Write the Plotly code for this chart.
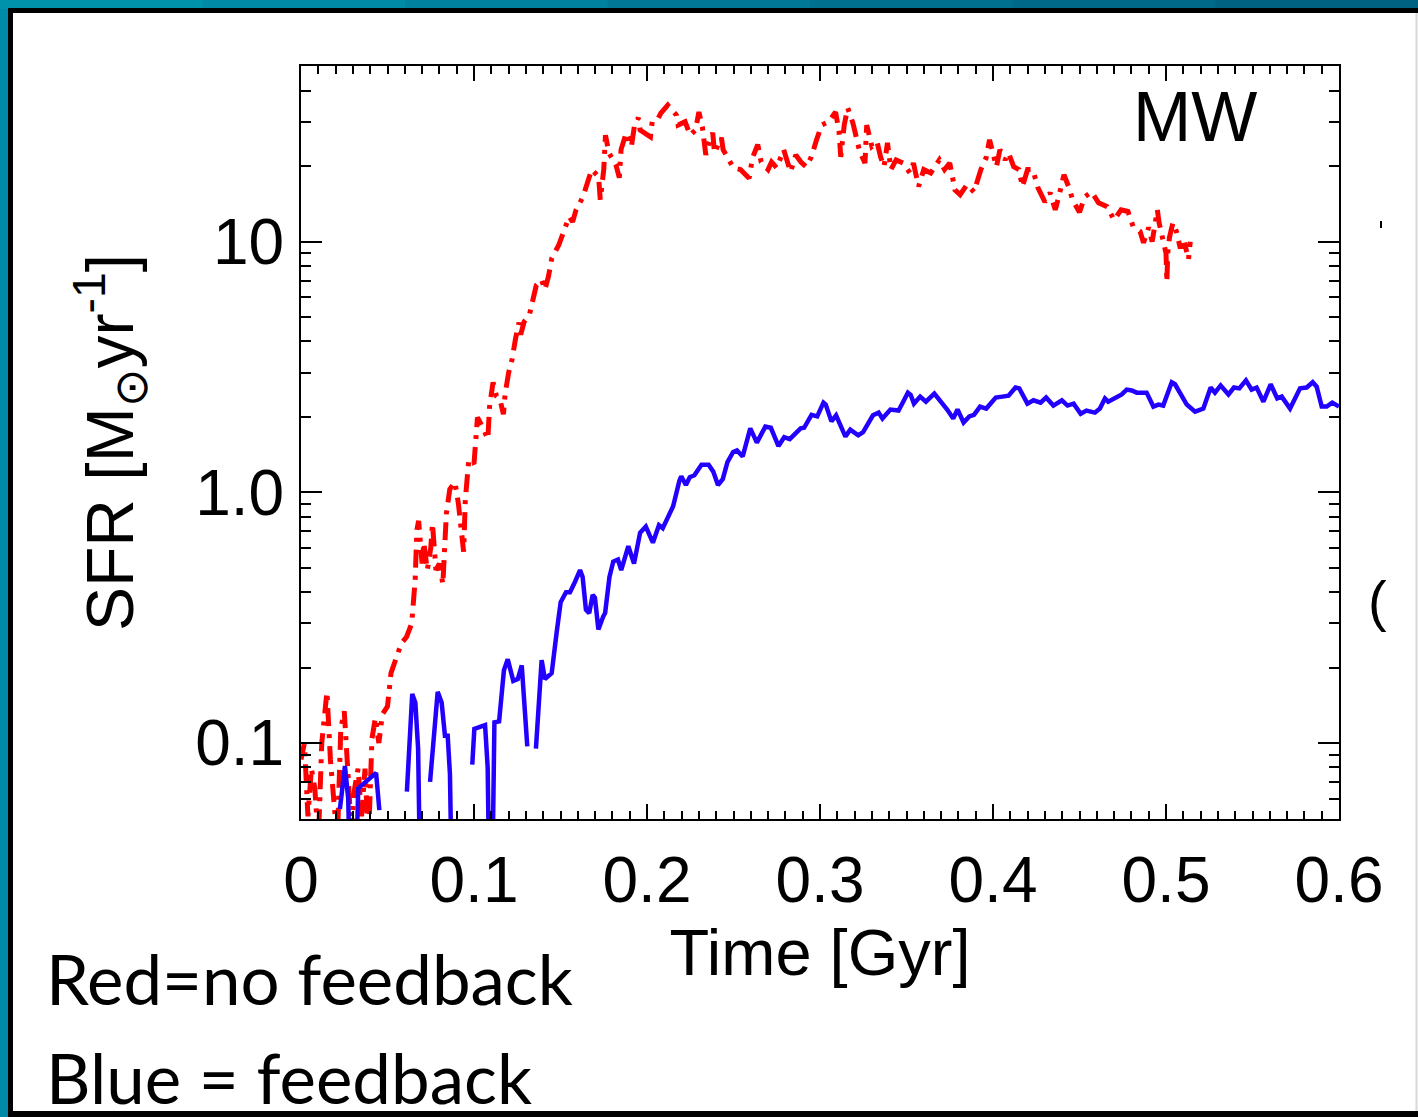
import plotly.graph_objects as go

# --- star formation rate vs time, MW run ---
# no feedback (red, dash-dot)
t_nofb = [0.000, 0.002, 0.004, 0.006, 0.008, 0.010, 0.012, 0.014, 0.015, 0.017,
          0.019, 0.021, 0.023, 0.025, 0.027, 0.029, 0.031, 0.033, 0.035, 0.037,
          0.039, 0.041, 0.043, 0.045, 0.047, 0.050, 0.052, 0.055, 0.058, 0.061,
          0.064, 0.066, 0.067, 0.068, 0.070, 0.071, 0.073, 0.075, 0.076, 0.078,
          0.080, 0.082, 0.083, 0.084, 0.086, 0.089, 0.091, 0.093, 0.094, 0.095,
          0.097, 0.100, 0.101, 0.102, 0.105, 0.108, 0.109, 0.111, 0.113, 0.115,
          0.117, 0.118, 0.120, 0.122, 0.124, 0.126, 0.127, 0.129, 0.132, 0.134,
          0.136, 0.139, 0.141, 0.143, 0.145, 0.149, 0.152, 0.155, 0.157, 0.159,
          0.163, 0.168, 0.172, 0.173, 0.175, 0.176, 0.178, 0.182, 0.184, 0.185,
          0.188, 0.191, 0.193, 0.195, 0.196, 0.202, 0.203, 0.206, 0.208, 0.212,
          0.217, 0.218, 0.222, 0.225, 0.228, 0.230, 0.232, 0.234, 0.236, 0.238,
          0.239, 0.243, 0.244, 0.247, 0.250, 0.254, 0.259, 0.261, 0.264, 0.266,
          0.270, 0.272, 0.275, 0.279, 0.283, 0.286, 0.289, 0.292, 0.295, 0.298,
          0.301, 0.305, 0.308, 0.309, 0.311, 0.312, 0.314, 0.316, 0.319, 0.321,
          0.323, 0.326, 0.327, 0.330, 0.333, 0.335, 0.337, 0.339, 0.341, 0.344,
          0.348, 0.352, 0.354, 0.357, 0.360, 0.364, 0.369, 0.372, 0.375, 0.378,
          0.381, 0.385, 0.389, 0.393, 0.396, 0.398, 0.400, 0.402, 0.404, 0.407,
          0.409, 0.412, 0.415, 0.417, 0.420, 0.423, 0.426, 0.430, 0.433, 0.436,
          0.438, 0.441, 0.444, 0.446, 0.450, 0.453, 0.457, 0.461, 0.466, 0.470,
          0.474, 0.478, 0.481, 0.485, 0.487, 0.490, 0.492, 0.494, 0.495, 0.496,
          0.498, 0.500, 0.5005, 0.501, 0.502, 0.504, 0.506, 0.508, 0.511, 0.513,
          0.514]
sfr_nofb = [0.086, 0.100, 0.051, 0.079, 0.066, 0.040, 0.100, 0.150, 0.160, 0.086,
            0.060, 0.040, 0.114, 0.134, 0.079, 0.045, 0.066, 0.079, 0.051, 0.079,
            0.040, 0.104, 0.126, 0.100, 0.130, 0.140, 0.190, 0.216, 0.250, 0.265,
            0.300, 0.450, 0.710, 0.770, 0.520, 0.630, 0.490, 0.600, 0.750, 0.490,
            0.520, 0.430, 0.565, 0.820, 1.03, 1.10, 0.90, 0.65, 0.58, 0.94,
            1.35, 1.30, 1.78, 1.99, 1.82, 1.63, 2.20, 2.75, 2.42, 2.35,
            2.05, 2.47, 3.00, 3.39, 4.10, 4.76, 4.26, 4.80, 5.10, 5.87,
            6.70, 7.06, 6.44, 7.25, 8.60, 9.70, 11.0, 12.6, 12.0, 13.4,
            15.1, 19.4, 18.2, 14.7, 19.4, 26.6, 22.6, 20.3, 18.0, 23.3,
            27.2, 24.0, 29.8, 31.2, 27.9, 26.2, 30.1, 30.6, 32.6, 35.1,
            32.0, 29.2, 30.1, 26.6, 27.9, 32.9, 28.7, 22.2, 25.0, 27.2,
            22.6, 26.0, 23.3, 21.2, 19.7, 19.4, 17.9, 21.6, 24.4, 20.8,
            19.4, 20.8, 19.7, 23.3, 19.0, 22.2, 20.8, 19.9, 21.8, 25.5,
            29.2, 30.1, 32.0, 32.9, 27.5, 21.8, 29.2, 34.2, 29.8, 25.5,
            22.8, 20.6, 29.2, 24.0, 25.0, 21.8, 19.9, 24.8, 19.4, 21.2,
            20.6, 18.8, 20.6, 16.6, 19.4, 18.8, 21.2, 19.4, 20.6, 16.1,
            15.4, 16.9, 15.8, 19.4, 21.6, 25.5, 22.8, 19.9, 23.3, 21.2,
            22.6, 19.9, 19.4, 16.6, 19.4, 19.4, 16.4, 14.4, 15.7, 13.4,
            15.1, 18.5, 16.4, 14.7, 13.1, 15.1, 15.8, 14.3, 13.8, 12.2,
            13.4, 13.2, 11.5, 11.0, 9.9, 11.4, 10.0, 12.6, 13.4, 11.9,
            10.4, 9.0, 6.9, 9.0, 10.4, 11.9, 11.0, 9.6, 9.7, 8.5,
            10.0]

# with feedback (blue, solid); None marks steps with zero star formation
t_fb = [0.0225, 0.0254, 0.0273, 0.0298, 0.0331, 0.0434, 0.0453, 0.0500,
        0.0612, 0.0643, 0.0661, 0.0677, 0.0695, 0.0720,
        0.0746, 0.0790, 0.0813, 0.0832, 0.0848, 0.0861, 0.0875, 0.0950,
        0.0990, 0.1002, 0.1064, 0.1079, 0.1097, 0.1118, 0.1145, 0.1173, 0.1195,
        0.1227, 0.1253, 0.1276, 0.1308, 0.1330,
        0.1358, 0.1391, 0.1410, 0.1449, 0.1478, 0.1501, 0.1532, 0.1555, 0.1584,
        0.1613, 0.1628, 0.1647, 0.1666, 0.1686, 0.1699, 0.1719, 0.1747, 0.1758,
        0.1783, 0.1805, 0.1832, 0.1851, 0.1892, 0.1925, 0.1960, 0.1993, 0.2034,
        0.2069, 0.2091, 0.2124, 0.2151, 0.2187, 0.2198, 0.2225, 0.2247, 0.2274,
        0.2315, 0.2356, 0.2383, 0.2410, 0.2438, 0.2465, 0.2498, 0.2520, 0.2553,
        0.2597, 0.2635, 0.2684, 0.2716, 0.2760, 0.2793, 0.2825, 0.2888, 0.2908,
        0.2951, 0.2984, 0.3020, 0.3033, 0.3066, 0.3093, 0.3147, 0.3175, 0.3221,
        0.3249, 0.3306, 0.3339, 0.3361, 0.3407, 0.3454, 0.3481, 0.3508, 0.3524,
        0.3543, 0.3579, 0.3612, 0.3661, 0.3680, 0.3735, 0.3770, 0.3795, 0.3830,
        0.3863, 0.3890, 0.3925, 0.3961, 0.4016, 0.4054, 0.4090, 0.4130, 0.4152,
        0.4199, 0.4234, 0.4275, 0.4307, 0.4349, 0.4398, 0.4431, 0.4466, 0.4507,
        0.4540, 0.4589, 0.4618, 0.4647, 0.4666, 0.4744, 0.4773, 0.4802, 0.4831,
        0.4888, 0.4927, 0.4956, 0.4984, 0.5033, 0.5052, 0.5120, 0.5168, 0.5216,
        0.5258, 0.5283, 0.5316, 0.5361, 0.5393, 0.5424, 0.5462, 0.5495, 0.5524,
        0.5563, 0.5605, 0.5643, 0.5669, 0.5717, 0.5775, 0.5813, 0.5848, 0.5871,
        0.5900, 0.5929, 0.5961, 0.6000]
sfr_fb = [0.0546, 0.081, 0.060, 0.010, 0.066, 0.076, 0.054, None,
          0.064, 0.157, 0.145, 0.095, 0.015, None,
          0.070, 0.160, 0.145, 0.107, 0.107, 0.075, 0.020, None,
          0.082, 0.114, 0.118, 0.080, 0.010, 0.121, 0.122, 0.195, 0.216,
          0.177, 0.180, 0.204, 0.097, None,
          0.095, 0.214, 0.180, 0.190, 0.277, 0.365, 0.400, 0.400, 0.440,
          0.490, 0.460, 0.340, 0.330, 0.390, 0.380, 0.284, 0.320, 0.330,
          0.46, 0.53, 0.54, 0.49, 0.61, 0.52, 0.69, 0.73, 0.63,
          0.74, 0.72, 0.80, 0.88, 1.11, 1.16, 1.07, 1.15, 1.17,
          1.29, 1.29, 1.21, 1.07, 1.13, 1.32, 1.45, 1.47, 1.39,
          1.80, 1.58, 1.83, 1.81, 1.53, 1.66, 1.63, 1.80, 1.81,
          2.04, 2.01, 2.28, 2.24, 1.92, 2.03, 1.67, 1.78, 1.69,
          1.74, 2.03, 2.08, 1.97, 2.14, 2.12, 2.30, 2.50, 2.45,
          2.26, 2.41, 2.30, 2.48, 2.39, 2.14, 1.97, 2.14, 1.90,
          2.01, 2.04, 2.20, 2.16, 2.39, 2.41, 2.43, 2.62, 2.60,
          2.26, 2.33, 2.28, 2.39, 2.22, 2.33, 2.22, 2.26, 2.06,
          2.12, 2.08, 2.16, 2.37, 2.30, 2.46, 2.57, 2.55, 2.50,
          2.50, 2.20, 2.24, 2.22, 2.75, 2.70, 2.24, 2.10, 2.16,
          2.62, 2.50, 2.67, 2.46, 2.62, 2.60, 2.80, 2.57, 2.62,
          2.30, 2.70, 2.37, 2.41, 2.16, 2.60, 2.62, 2.75, 2.64,
          2.20, 2.20, 2.28, 2.20]

x_ticks = [0, 0.1, 0.2, 0.3, 0.4, 0.5, 0.6]
x_ticktext = ["0", "0.1", "0.2", "0.3", "0.4", "0.5", "0.6"]
y_ticks = [0.1, 1, 10]
y_ticktext = ["0.1", "1.0", "10"]
y_minor = [0.06, 0.07, 0.08, 0.09, 0.2, 0.3, 0.4, 0.5, 0.6, 0.7, 0.8, 0.9,
           2, 3, 4, 5, 6, 7, 8, 9, 20, 30, 40, 50]

W, H = 1418, 1117
ML, MR, MT, MB = 301, 79, 66, 298
PW, PH = W - ML - MR, H - MT - MB


def px(x):
    return (x - ML) / PW


def py(y):
    return (H - MB - y) / PH


AX_FONT = "Liberation Sans, Arial, Helvetica, sans-serif"
NOTE_FONT = "Lato, Open Sans, sans-serif"

fig = go.Figure()
fig.add_trace(go.Scatter(
    x=t_nofb, y=sfr_nofb, mode="lines", name="no feedback",
    line=dict(color="#ff0000", width=5, dash="18px,8px,4px,8px"),
))
fig.add_trace(go.Scatter(
    x=t_fb, y=sfr_fb, mode="lines", name="feedback",
    line=dict(color="#2200ff", width=4.5),
    connectgaps=False,
))

# slide frame: teal background, black rule, white card
shapes = []
teal_stops = ["#0092ab", "#008aa5", "#00819e", "#007896", "#00708f", "#006889", "#006283"]
n = len(teal_stops)
for i, c in enumerate(teal_stops):
    shapes.append(dict(type="rect", xref="paper", yref="paper", layer="below",
                       x0=px(i * W / n), x1=px((i + 1) * W / n + 1),
                       y0=py(0), y1=py(9), fillcolor=c, line_width=0))
shapes += [
    dict(type="rect", xref="paper", yref="paper", layer="below",
         x0=px(8), x1=px(W + 5), y0=py(8), y1=py(H + 5),
         fillcolor="black", line_width=0),
    dict(type="rect", xref="paper", yref="paper", layer="below",
         x0=px(13), x1=px(W + 5), y0=py(13), y1=py(1111),
         fillcolor="white", line_width=0),
    dict(type="line", xref="paper", yref="paper", layer="below",
         x0=px(1416.5), x1=px(1416.5), y0=py(13), y1=py(1111),
         line=dict(color="#d8d8d8", width=2)),
    dict(type="line", xref="paper", yref="paper", layer="below",
         x0=px(1381), x1=px(1381), y0=py(221), y1=py(228),
         line=dict(color="black", width=2)),
]

annotations = [
    dict(text="MW", xref="paper", yref="paper", x=px(1195), y=py(117),
         xanchor="center", yanchor="middle", showarrow=False,
         font=dict(family=AX_FONT, size=70, color="black")),
    dict(text="Red=no feedback", xref="paper", yref="paper", x=px(44), y=py(978),
         xanchor="left", yanchor="middle", showarrow=False,
         font=dict(family=NOTE_FONT, size=69, color="black")),
    dict(text="Blue = feedback", xref="paper", yref="paper", x=px(44), y=py(1077),
         xanchor="left", yanchor="middle", showarrow=False,
         font=dict(family=NOTE_FONT, size=69, color="black")),
    dict(text="(", xref="paper", yref="paper", x=px(1366), y=py(600),
         xanchor="left", yanchor="middle", showarrow=False,
         font=dict(family=AX_FONT, size=56, color="black")),
]

axis_common = dict(
    showline=True, linecolor="black", linewidth=2, mirror="ticks",
    ticks="inside", tickcolor="black", tickwidth=2,
    showgrid=False, zeroline=False,
    tickfont=dict(family=AX_FONT, size=64, color="black"),
)

fig.update_layout(
    width=W, height=H, autosize=False,
    margin=dict(l=ML, r=MR, t=MT, b=MB, pad=0),
    paper_bgcolor="#008aa5", plot_bgcolor="white",
    showlegend=False,
    shapes=shapes, annotations=annotations,
    xaxis=dict(
        **axis_common, range=[0, 0.6], tickvals=x_ticks, ticktext=x_ticktext,
        ticklen=15, ticklabelstandoff=4,
        minor=dict(dtick=0.01, ticks="inside", ticklen=8, tickwidth=2, tickcolor="black"),
        title=dict(text="Time [Gyr]", standoff=6,
                   font=dict(family=AX_FONT, size=65, color="black")),
    ),
    yaxis=dict(
        **axis_common, type="log", range=[-1.303, 1.701],
        tickvals=y_ticks, ticktext=y_ticktext, ticklen=21, ticklabelstandoff=2,
        minor=dict(tickvals=y_minor, ticks="inside", ticklen=10, tickwidth=2, tickcolor="black"),
        title=dict(text="SFR [M<sub>⊙</sub>yr<sup>-1</sup>]", standoff=40,
                   font=dict(family=AX_FONT, size=66, color="black")),
    ),
)

fig.write_html("out.html")
